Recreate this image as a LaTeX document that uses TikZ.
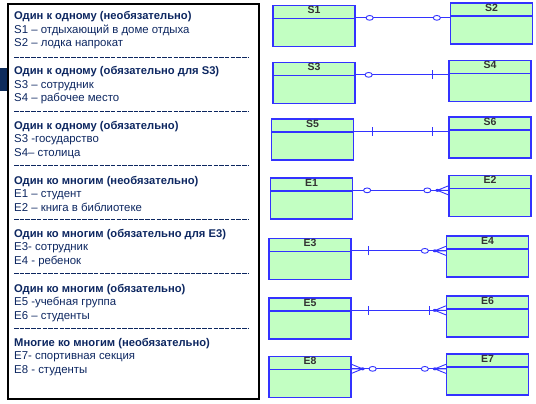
\documentclass[tikz,border=0pt]{standalone}
\usepackage{fontspec}
\setmainfont{Liberation Sans}
\usetikzlibrary{calc}
\definecolor{erblue}{RGB}{51,51,255}
\definecolor{entgreen}{RGB}{194,255,194}
\definecolor{navytext}{RGB}{12,38,96}
\definecolor{tabnavy}{RGB}{14,44,92}
\newcommand{\grphead}[1]{{\fontsize{11.2}{13.5}\selectfont\bfseries #1}}
\tikzset{
  ent/.style={rectangle,draw=erblue,line width=1.3pt,fill=entgreen,minimum width=82pt,minimum height=41pt,inner sep=0pt,
    path picture={\draw[erblue,line width=1.1pt] ([yshift=-13pt]path picture bounding box.north west) -- ([yshift=-13pt]path picture bounding box.north east);},
    label={[entname]north:#1}},
  entname/.style={anchor=north,inner sep=1.4pt,font=\fontsize{10.5}{12}\selectfont\bfseries,text=black!80},
  grp/.style={anchor=base west,align=left,inner sep=0pt,text=navytext,font=\fontsize{11.4}{13.5}\selectfont},
  sepline/.style={navytext,line width=0.9pt,dash pattern=on 4.5pt off 1.2pt},
  rel/.style={erblue,line width=1pt},
  opt/.pic={\draw[erblue,line width=0.9pt,fill=white] (0,0) ellipse (3.6pt and 2.4pt);},
  must/.pic={\draw[erblue,line width=1pt] (0,-4.5pt) -- (0,4.5pt);},
  many/.pic={\draw[erblue,line width=0.9pt] (0,0) -- (11pt,4.5pt) (0,0) -- (11pt,0) (0,0) -- (11pt,-4.5pt);
    \fill[erblue] (0,0) ellipse (2pt and 1.5pt);}
}
\begin{document}
\begin{tikzpicture}[x=1pt,y=-1pt]
  \useasboundingbox (0,0) rectangle (536,404);

  % left panel (base of each node = last line)
  \fill[tabnavy] (0,68) rectangle (7,91);
  \draw[black,line width=1.3pt] (8,4) rectangle (259,399);

  \node[grp] (g1) at (14,47) {\grphead{Один к одному (необязательно)}\\S1 – отдыхающий в доме отдыха\\S2 – лодка напрокат};
  \node[grp] (g2) at (14,102) {\grphead{Один к одному (обязательно для S3)}\\S3 – сотрудник\\S4 – рабочее место};
  \node[grp] (g3) at (14,156) {\grphead{Один к одному (обязательно)}\\S3 -государство\\S4– столица};
  \node[grp] (g4) at (14,211) {\grphead{Один ко многим (необязательно)}\\E1 – студент\\E2 – книга в библиотеке};
  \node[grp] (g5) at (14,264) {\grphead{Один ко многим (обязательно для E3)}\\E3- сотрудник\\E4 - ребенок};
  \node[grp] (g6) at (14,319) {\grphead{Один ко многим (обязательно)}\\E5 -учебная группа\\E6 – студенты};
  \node[grp] (g7) at (14,373) {\grphead{Многие ко многим (необязательно)}\\E7- спортивная секция\\E8 - студенты};

  \draw[sepline] (14,57) -- (248,57);
  \draw[sepline] (14,111) -- (248,111);
  \draw[sepline] (14,165) -- (248,165);
  \draw[sepline] (14,219) -- (248,219);
  \draw[sepline] (14,273) -- (248,273);
  \draw[sepline] (14,328) -- (248,328);

  % entities
  \node[ent=S1] (s1) at (314,26) {};
  \node[ent=S2] (s2) at (491.5,23.5) {};
  \node[ent=S3] (s3) at (314,83) {};
  \node[ent=S4] (s4) at (490,81) {};
  \node[ent=S5] (s5) at (312.5,139.5) {};
  \node[ent=S6] (s6) at (490,137.5) {};
  \node[ent=E1] (e1) at (311.5,198.5) {};
  \node[ent=E2] (e2) at (490,196) {};
  \node[ent=E3] (e3) at (310,259) {};
  \node[ent=E4] (e4) at (487.5,256.5) {};
  \node[ent=E5] (e5) at (310,318.5) {};
  \node[ent=E6] (e6) at (487.5,316.5) {};
  \node[ent=E8] (e8) at (310,377) {};
  \node[ent=E7] (e7) at (487.5,374.5) {};

  % relationships
  \draw[rel] ([yshift=-13pt]s1.north east) coordinate (a1) -- (a1 -| s2.west) coordinate (b1);
  \pic at ([xshift=14pt]a1) {opt};
  \pic at ([xshift=-13pt]b1) {opt};

  \draw[rel] ([yshift=-13pt]s3.north east) coordinate (a2) -- (a2 -| s4.west) coordinate (b2);
  \pic at ([xshift=13pt]a2) {opt};
  \pic at ([xshift=-16pt]b2) {must};

  \draw[rel] ([yshift=-13pt]s5.north east) coordinate (a3) -- (a3 -| s6.west) coordinate (b3);
  \pic at ([xshift=18pt]a3) {must};
  \pic at ([xshift=-16pt]b3) {must};

  \draw[rel] ([yshift=-13pt]e1.north east) coordinate (a4) -- (a4 -| e2.west) coordinate (b4);
  \pic at ([xshift=14pt]a4) {opt};
  \pic at ([xshift=-11pt]b4) {many};
  \pic at ([xshift=-21pt]b4) {opt};

  \draw[rel] ([yshift=-13pt]e3.north east) coordinate (a5) -- (a5 -| e4.west) coordinate (b5);
  \pic at ([xshift=17pt]a5) {must};
  \pic at ([xshift=-11pt]b5) {many};
  \pic at ([xshift=-21pt]b5) {opt};

  \draw[rel] ([yshift=-13pt]e5.north east) coordinate (a6) -- (a6 -| e6.west) coordinate (b6);
  \pic at ([xshift=17pt]a6) {must};
  \pic at ([xshift=-11pt]b6) {many};
  \pic at ([xshift=-16pt]b6) {must};

  \draw[rel] ([yshift=-13pt]e8.north east) coordinate (a7) -- (a7 -| e7.west) coordinate (b7);
  \pic[xscale=-1] at ([xshift=11pt]a7) {many};
  \pic at ([xshift=21pt]a7) {opt};
  \pic at ([xshift=-11pt]b7) {many};
  \pic at ([xshift=-21pt]b7) {opt};
\end{tikzpicture}
\end{document}
